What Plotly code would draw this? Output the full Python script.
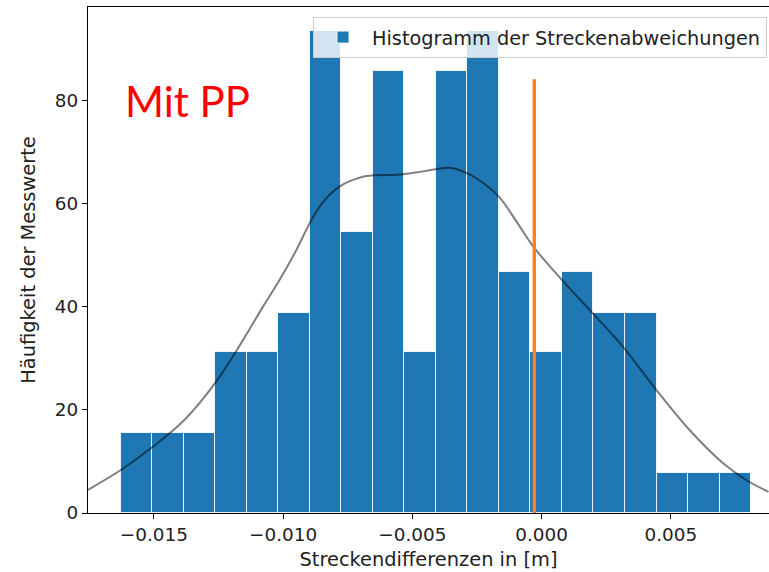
import plotly.graph_objects as go

# Histogram (density)
bin_edges = [-0.016276, -0.015057, -0.013838, -0.012619, -0.011400, -0.010181,
             -0.008962, -0.007743, -0.006524, -0.005305, -0.004086, -0.002867,
             -0.001648, -0.000429, 0.000790, 0.002009, 0.003228, 0.004447,
             0.005666, 0.006885, 0.008104]
bar_heights = [15.6, 15.6, 15.6, 31.2, 31.2, 38.9, 93.5, 54.5, 85.7, 31.2,
               85.7, 93.5, 46.7, 31.2, 46.7, 38.9, 38.9, 7.8, 7.8, 7.8]

# KDE curve
kde_x = [-0.017552, -0.016264, -0.015104, -0.013813, -0.012591, -0.011547,
         -0.010773, -0.010128, -0.009482, -0.008967, -0.008581, -0.008194,
         -0.007807, -0.007421, -0.006775, -0.005487, -0.004586, -0.003554,
         -0.002908, -0.002266, -0.001620, -0.000975, -0.000333, 0.000313,
         0.000959, 0.001601, 0.002633, 0.003148, 0.004439, 0.005727,
         0.007014, 0.007919, 0.008782]
kde_y = [4.5, 8.4, 12.6, 18.1, 25.5, 33.6, 40.1, 45.3, 51.1, 56.3, 59.5, 61.8,
         63.4, 64.4, 65.4, 65.7, 66.3, 67.0, 66.0, 64.1, 61.2, 56.6, 51.8, 47.9,
         44.3, 40.8, 35.2, 32.3, 23.9, 16.1, 9.7, 6.4, 4.1]

# vertical marker line
marker_x = [-0.00028, -0.00028]
marker_y = [-3.6, 84.2]

x_tickvals = [-0.015, -0.010, -0.005, 0.000, 0.005]
x_ticktext = ["\u22120.015", "\u22120.010", "\u22120.005", "0.000", "0.005"]
y_tickvals = [0, 20, 40, 60, 80]

centers = [(bin_edges[i] + bin_edges[i + 1]) / 2 for i in range(len(bar_heights))]
widths = [bin_edges[i + 1] - bin_edges[i] for i in range(len(bar_heights))]

FONT = "DejaVu Sans"
TXT = "#222222"
fig = go.Figure()
fig.add_trace(go.Bar(
    x=centers, y=bar_heights, width=widths,
    marker=dict(color="#1f77b4", line=dict(color="rgba(255,255,255,0.85)", width=1)),
    name="Histogramm der Streckenabweichungen", showlegend=True,
))
fig.add_trace(go.Scatter(
    x=kde_x, y=kde_y, mode="lines",
    line=dict(color="rgba(0,0,0,0.5)", width=2, shape="spline", smoothing=1.0),
    showlegend=False,
))
fig.add_trace(go.Scatter(
    x=marker_x, y=marker_y, mode="lines",
    line=dict(color="#f5822a", width=3.5),
    showlegend=False, cliponaxis=False,
))

fig.add_annotation(
    text="Mit PP", xref="paper", yref="paper", x=0.052, y=0.815,
    xanchor="left", yanchor="middle", showarrow=False,
    font=dict(family="Lato", size=42, color="#ff0000"),
)

fig.update_layout(
    width=769, height=572,
    margin=dict(l=88, r=0, t=7, b=59),
    paper_bgcolor="white", plot_bgcolor="white",
    font=dict(family=FONT, size=18.4, color=TXT),
    bargap=0,
    legend=dict(
        x=0.3304, y=0.9802, xanchor="left", yanchor="top",
        bgcolor="rgba(255,255,255,0.8)", bordercolor="#cccccc", borderwidth=1,
        itemwidth=48,
        font=dict(family=FONT, size=19.3, color=TXT),
    ),
    xaxis=dict(
        range=[-0.01755, 0.0088], tickvals=x_tickvals, ticktext=x_ticktext,
        showgrid=False, zeroline=False, showline=True, linecolor="black",
        linewidth=1.2, mirror=True, ticks="outside", ticklen=5, tickwidth=1,
        tickcolor="black", automargin=False,
        tickfont=dict(family=FONT, size=18.4, color=TXT),
        title=dict(text="Streckendifferenzen in [m]", standoff=8,
                   font=dict(family=FONT, size=19.4, color=TXT)),
    ),
    yaxis=dict(
        range=[0, 98.2], tickvals=y_tickvals, showgrid=False, zeroline=False,
        showline=True, linecolor="black", linewidth=1.2, ticks="outside",
        ticklen=5, tickwidth=1, tickcolor="black", automargin=False,
        tickfont=dict(family=FONT, size=18.4, color=TXT),
        title=dict(text="Häufigkeit der Messwerte", standoff=14,
                   font=dict(family=FONT, size=19.4, color=TXT)),
    ),
)

fig.write_html(
    "out.html",
    config={"displayModeBar": False},
    post_script="document.body.style.margin='0';document.body.style.overflow='hidden';",
)
